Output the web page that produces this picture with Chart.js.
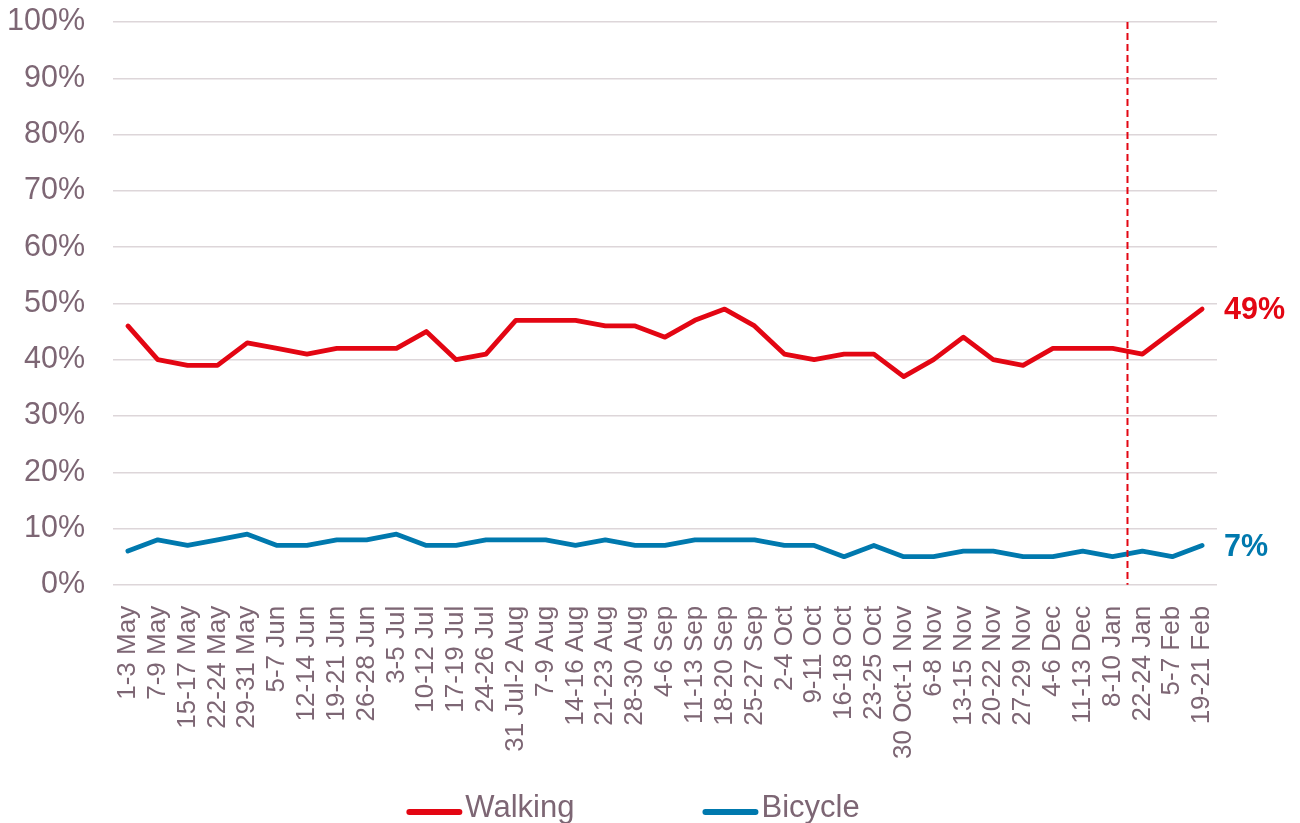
<!DOCTYPE html>
<html>
<head>
<meta charset="utf-8">
<script src="https://cdn.jsdelivr.net/npm/chart.js@4/dist/chart.umd.min.js"></script>
<style>
  html, body { margin: 0; padding: 0; background: #fff; }
  #wrap { width: 1300px; height: 823px; position: relative; }
</style>
</head>
<body>
<div id="wrap"><canvas id="chart"></canvas></div>
<script>
// --- Data ---
const periods = [
  '1-3 May', '7-9 May', '15-17 May', '22-24 May', '29-31 May', '5-7 Jun', '12-14 Jun',
  '19-21 Jun', '26-28 Jun', '3-5 Jul', '10-12 Jul', '17-19 Jul', '24-26 Jul', '31 Jul-2 Aug',
  '7-9 Aug', '14-16 Aug', '21-23 Aug', '28-30 Aug', '4-6 Sep', '11-13 Sep', '18-20 Sep',
  '25-27 Sep', '2-4 Oct', '9-11 Oct', '16-18 Oct', '23-25 Oct', '30 Oct-1 Nov', '6-8 Nov',
  '13-15 Nov', '20-22 Nov', '27-29 Nov', '4-6 Dec', '11-13 Dec', '8-10 Jan', '22-24 Jan',
  '5-7 Feb', '19-21 Feb'
];
const walking = [46, 40, 39, 39, 43, 42, 41, 42, 42, 42, 45, 40, 41, 47, 47, 47, 46, 46, 44,
  47, 49, 46, 41, 40, 41, 41, 37, 40, 44, 40, 39, 42, 42, 42, 41, 45, 49];
const bicycle = [6, 8, 7, 8, 9, 7, 7, 8, 8, 9, 7, 7, 8, 8, 8, 7, 8, 7, 7, 8, 8, 8, 7, 7, 5,
  7, 5, 5, 6, 6, 5, 5, 6, 5, 6, 5, 7];
const yTicks = [0, 10, 20, 30, 40, 50, 60, 70, 80, 90, 100];
// dashed marker sits between these two periods
const breakBetween = ['8-10 Jan', '22-24 Jan'];

const TEXT = '#7d6674';
const GRID = '#ddd6d9';
const RED = '#e30613';
const BLUE = '#0079ae';
const FONT = '"Liberation Sans", Arial, sans-serif';

// vertical dashed line between two categories
const breakLine = {
  id: 'breakLine',
  afterDatasetsDraw(chart) {
    const x = chart.scales.x;
    const a = x.getPixelForValue(periods.indexOf(breakBetween[0]));
    const b = x.getPixelForValue(periods.indexOf(breakBetween[1]));
    const px = (a + b) / 2;
    const { top, bottom } = chart.chartArea;
    const ctx = chart.ctx;
    ctx.save();
    ctx.strokeStyle = RED;
    ctx.lineWidth = 2;
    ctx.setLineDash([7, 4]);
    ctx.beginPath();
    ctx.moveTo(px, top);
    ctx.lineTo(px, bottom);
    ctx.stroke();
    ctx.restore();
  }
};

// value label next to the last point of each series
const endLabels = {
  id: 'endLabels',
  afterDatasetsDraw(chart) {
    const ctx = chart.ctx;
    ctx.save();
    ctx.font = `bold 30.5px ${FONT}`;
    ctx.textBaseline = 'middle';
    ctx.textAlign = 'left';
    chart.data.datasets.forEach((ds, i) => {
      const pts = chart.getDatasetMeta(i).data;
      const last = pts[pts.length - 1];
      ctx.fillStyle = ds.borderColor;
      ctx.fillText(ds.data[ds.data.length - 1] + '%', last.x + 22, last.y + 2);
    });
    ctx.restore();
  }
};

// bottom legend: short thick line + label, close together
const lineLegend = {
  id: 'lineLegend',
  afterDraw(chart) {
    const ctx = chart.ctx;
    ctx.save();
    ctx.font = `31px ${FONT}`;
    const lineW = 56, gapText = 3, gapItem = 128;
    const items = chart.data.datasets.map(ds => ({
      text: ds.label, color: ds.borderColor, w: ctx.measureText(ds.label).width
    }));
    const total = items.reduce((s, it) => s + lineW + gapText + it.w, 0) + gapItem * (items.length - 1);
    let x = chart.width / 2 - 17 - total / 2;
    const y = 812;
    items.forEach(it => {
      ctx.strokeStyle = it.color;
      ctx.lineWidth = 6;
      ctx.lineCap = 'round';
      ctx.beginPath();
      ctx.moveTo(x + 3, y);
      ctx.lineTo(x + lineW - 3, y);
      ctx.stroke();
      ctx.fillStyle = TEXT;
      ctx.textBaseline = 'alphabetic';
      ctx.fillText(it.text, x + lineW + gapText, y + 5);
      x += lineW + gapText + it.w + gapItem;
    });
    ctx.restore();
  }
};

new Chart(document.getElementById('chart'), {
  type: 'line',
  data: {
    labels: periods,
    datasets: [
      {
        label: 'Walking',
        data: walking,
        borderColor: RED,
        backgroundColor: RED,
        borderWidth: 4.8,
        pointRadius: 0,
        tension: 0,
        borderCapStyle: 'round',
        borderJoinStyle: 'round'
      },
      {
        label: 'Bicycle',
        data: bicycle,
        borderColor: BLUE,
        backgroundColor: BLUE,
        borderWidth: 4.8,
        pointRadius: 0,
        tension: 0,
        borderCapStyle: 'round',
        borderJoinStyle: 'round'
      }
    ]
  },
  options: {
    responsive: true,
    maintainAspectRatio: false,
    animation: false,
    layout: { padding: { left: 8, right: 83, top: 22, bottom: 51 } },
    scales: {
      x: {
        offset: true,
        grid: { display: false },
        border: { display: false },
        ticks: {
          color: TEXT,
          font: { family: FONT, size: 26 },
          maxRotation: 90,
          minRotation: 90,
          autoSkip: false,
          padding: 13
        }
      },
      y: {
        min: 0,
        max: 100,
        afterBuildTicks: axis => { axis.ticks = yTicks.map(v => ({ value: v })); },
        afterFit: axis => {
          axis.width = 105;
          axis.paddingTop = 0;
          axis.paddingBottom = 0;
        },
        grid: { color: GRID, lineWidth: 1.5, drawTicks: false },
        border: { display: false },
        ticks: {
          color: TEXT,
          font: { family: FONT, size: 30.5 },
          padding: 28,
          callback: v => v + '%'
        }
      }
    },
    plugins: {
      legend: { display: false },
      tooltip: { enabled: false }
    }
  },
  plugins: [breakLine, endLabels, lineLegend]
});
</script>
</body>
</html>
